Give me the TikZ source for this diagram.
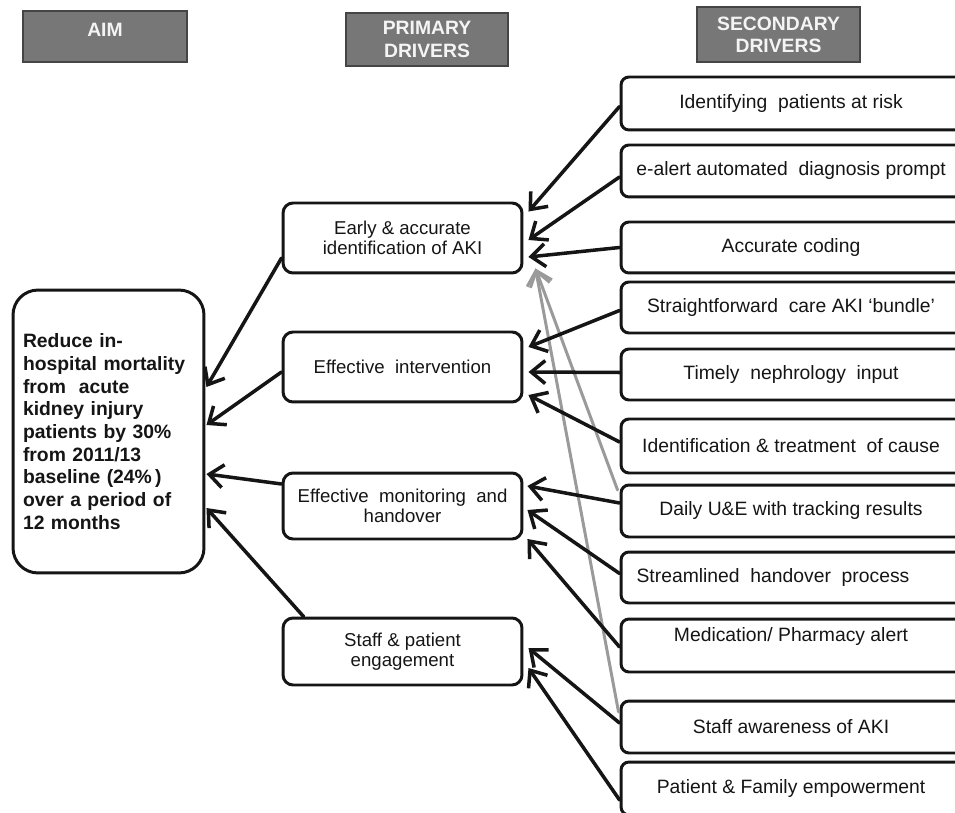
\documentclass[tikz,border=0pt]{standalone}
\usepackage{fontspec}
\setmainfont{Liberation Sans}
\usetikzlibrary{arrows.meta,calc}
\definecolor{hdrfill}{HTML}{777777}
\definecolor{hdrline}{HTML}{454545}
\definecolor{hdrtext}{HTML}{F4F4F4}
\definecolor{grayarrow}{HTML}{9A9A9A}
\definecolor{ink}{HTML}{151515}
\begin{document}
\begin{tikzpicture}[x=0.02cm,y=-0.02cm,
  hdr/.style={draw=hdrline, fill=hdrfill, line width=0.8pt, text=hdrtext,
    font=\bfseries\fontsize{11}{12.6}\selectfont, align=center, inner sep=0pt},
  aimbox/.style={draw=ink, line width=1.7pt, rounded corners=5mm, text=ink,
    minimum width=3.82cm, minimum height=5.66cm, text width=3.42cm, inner sep=0.2cm,
    align=left, font=\bfseries\fontsize{11}{12.9}\selectfont},
  prim/.style={draw=ink, line width=1.7pt, rounded corners=2mm, text=ink,
    minimum width=4.78cm, align=center, inner sep=0pt,
    font=\fontsize{10.6}{11.6}\selectfont},
  sec/.style={draw=ink, line width=1.7pt, rounded corners=1.6mm, text=ink,
    minimum width=8cm, align=center, inner sep=0pt,
    font=\fontsize{11}{12.5}\selectfont,
    execute at end node={\hspace*{1.2cm}}},
  arr/.style={draw=ink, line width=2pt, line cap=round, line join=round,
    -{Straight Barb[length=2.8mm,width=4.6mm]}},
  garr/.style={draw=grayarrow, line width=1.7pt, line cap=round, line join=round,
    -{Straight Barb[length=2.8mm,width=4.6mm]}}
]
\useasboundingbox (0,0) rectangle (955,813);
\clip (0,0) rectangle (955,813);

% headers
\node[hdr, minimum width=3.28cm, minimum height=1.02cm, text depth=7.4pt] (h1) at (105,36.5) {AIM};
\node[hdr, minimum width=3.24cm, minimum height=1.06cm] (h2) at (427,39.5) {PRIMARY\\DRIVERS};
\node[hdr, minimum width=3.26cm, minimum height=1.1cm] (h3) at (778.5,34.5) {SECONDARY\\DRIVERS};

% aim
\node[aimbox] (aim) at (108.5,431.5) {Reduce in-\\hospital mortality\\from\ \ acute\\kidney injury\\patients by 30\%\\from 2011/13\\baseline (24\%\,)\\over a period of\\12 months};

% primary drivers
\node[prim, minimum height=1.4cm] (p1) at (402.5,238) {Early \& accurate\\identification of AKI};
\node[prim, minimum height=1.4cm] (p2) at (402.5,367) {Effective\ \ intervention};
\node[prim, minimum height=1.32cm] (p3) at (402.5,506) {Effective\ \ monitoring\ \ and\\handover};
\node[prim, minimum height=1.34cm] (p4) at (402.5,651.5) {Staff \& patient\\engagement};

% secondary drivers
\node[sec, minimum height=1.06cm] (s1) at (821,103.5) {Identifying\ \ patients at risk};
\node[sec, minimum height=1.04cm] (s2) at (821,171) {e-alert automated\ \ diagnosis prompt};
\node[sec, minimum height=1.02cm] (s3) at (821,247.5) {Accurate coding};
\node[sec, minimum height=1.02cm] (s4) at (821,307.5) {Straightforward\ \ care AKI ‘bundle’};
\node[sec, minimum height=1.02cm] (s5) at (821,374.5) {Timely\ \ nephrology\ \ input};
\node[sec, minimum height=1.08cm] (s6) at (821,446) {Identification \& treatment\ \ of cause};
\node[sec, minimum height=1.04cm] (s7) at (821,511) {Daily U\&E with tracking results};
\node[sec, minimum height=1.02cm] (s8) at (821,577.5) {Streamlined\ \ handover\ \ process\hspace*{0.72cm}};
\node[sec, minimum height=1.06cm, text depth=12pt] (s9) at (821,645.5) {Medication/ Pharmacy alert};
\node[sec, minimum height=1.04cm] (s10) at (821,727) {Staff awareness of AKI};
\node[sec, minimum height=1.06cm] (s11) at (821,788.5) {Patient \& Family empowerment};

% gray connectors
\draw[garr] ($(s7.west)+(-2,-21)$) -- ($(p1.south east)+(12,-6)$);
\draw[garr] ($(s10.west)+(-1,-15)$) -- ($(p1.south east)+(12,-6)$);

% secondary -> primary
\draw[arr] ($(s1.west)+(0,3)$) -- ($(p1.north east)+(5,10)$);
\draw[arr] ($(s2.west)+(0,6)$) -- ($(p1.east)+(5,2)$);
\draw[arr] (s3.west) -- ($(p1.east)+(5,19)$);
\draw[arr] ($(s4.west)+(0,3)$) -- ($(p2.east)+(5,-20)$);
\draw[arr] ($(s5.west)+(0,-2)$) -- ($(p2.east)+(5,5)$);
\draw[arr] ($(s6.west)+(0,-4)$) -- ($(p2.east)+(5,28)$);
\draw[arr] ($(s7.west)+(0,-8)$) -- ($(p3.east)+(4,-20)$);
\draw[arr] ($(s8.west)+(0,-4)$) -- ($(p3.east)+(4,4)$);
\draw[arr] ($(s9.west)+(0,1.5)$) -- ($(p3.east)+(4,33)$);
\draw[arr] ($(s10.west)+(0,-4)$) -- ($(p4.east)+(5,-3.5)$);
\draw[arr] ($(s11.west)+(0,11.5)$) -- ($(p4.east)+(5,16.5)$);

% primary -> aim
\draw[arr] ($(p1.west)+(0,20)$) -- ($(aim.east)+(1,-44.5)$);
\draw[arr] ($(p2.west)+(0,5)$) -- ($(aim.east)+(1,-6.5)$);
\draw[arr] ($(p3.west)+(0,-22)$) -- ($(aim.east)+(1,42.5)$);
\draw[arr] ($(p4.north west)+(22,0)$) -- ($(aim.east)+(1,76.5)$);
\end{tikzpicture}
\end{document}
